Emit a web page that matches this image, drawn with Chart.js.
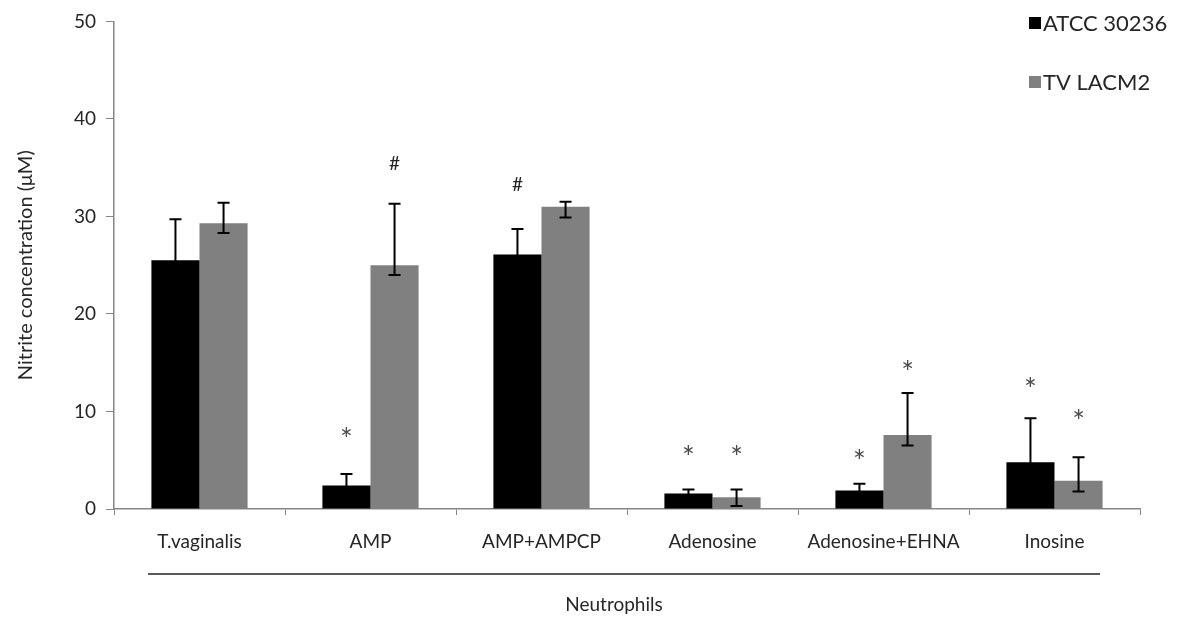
<!DOCTYPE html>
<html>
<head>
<meta charset="utf-8">
<script src="https://cdn.jsdelivr.net/npm/chart.js@4/dist/chart.umd.min.js"></script>
<style>
  html, body { margin: 0; padding: 0; background: #fff; }
  #wrap { width: 1186px; height: 623px; }
</style>
</head>
<body>
<div id="wrap"><canvas id="grafica" width="1186" height="623"></canvas></div>
<script>
// datos
const categorias = ['T.vaginalis', 'AMP', 'AMP+AMPCP', 'Adenosine', 'Adenosine+EHNA', 'Inosine'];
const atcc = [25.5, 2.4, 26.1, 1.6, 1.9, 4.8];
const atccAlto = [29.7, 3.6, 28.7, 2.0, 2.6, 9.3];
const atccBajo = [21.3, 1.2, 23.5, 1.2, 1.2, 0.3];
const lacm = [29.3, 25.0, 31.0, 1.2, 7.6, 2.9];
const lacmAlto = [31.4, 31.3, 31.5, 2.0, 11.9, 5.3];
const lacmBajo = [28.3, 24.0, 29.9, 0.3, 6.5, 1.8];
// marcas de significancia (texto y altura)
const marcaAtcc = ['', '*', '#', '*', '*', '*'];
const marcaAtccY = [null, 7.9, 33.3, 6.0, 5.6, 13.0];
const marcaLacm = ['', '#', '', '*', '*', '*'];
const marcaLacmY = [null, 35.5, null, 6.0, 14.8, 9.7];
const ticksY = [0, 10, 20, 30, 40, 50];

const FUENTE = 'Lato, "Open Sans", sans-serif';
const TEXTO = '#262626';

const extras = {
  id: 'extras',
  afterDatasetsDraw(chart) {
    const ctx = chart.ctx;
    const y = chart.scales.y;
    const altos = [atccAlto, lacmAlto];
    const bajos = [atccBajo, lacmBajo];
    const marcas = [marcaAtcc, marcaLacm];
    const marcasY = [marcaAtccY, marcaLacmY];
    ctx.save();
    [0, 1].forEach(d => {
      const meta = chart.getDatasetMeta(d);
      meta.data.forEach((bar, i) => {
        const x = bar.x;
        const yh = y.getPixelForValue(altos[d][i]);
        const yl = y.getPixelForValue(bajos[d][i]);
        ctx.strokeStyle = '#000';
        ctx.lineWidth = 2;
        ctx.beginPath();
        ctx.moveTo(x, yh); ctx.lineTo(x, yl);
        ctx.moveTo(x - 6, yh); ctx.lineTo(x + 6, yh);
        ctx.moveTo(x - 6, yl); ctx.lineTo(x + 6, yl);
        ctx.stroke();
        const m = marcas[d][i];
        if (m) {
          const ym = y.getPixelForValue(marcasY[d][i]);
          ctx.fillStyle = m === '*' ? '#4a4a4a' : '#222';
          ctx.font = (m === '*' ? '30px ' : '19px ') + FUENTE;
          ctx.textAlign = 'center';
          ctx.textBaseline = 'alphabetic';
          const med = ctx.measureText(m);
          const off = (med.actualBoundingBoxAscent - med.actualBoundingBoxDescent) / 2;
          ctx.fillText(m, x, ym + off);
        }
      });
    });
    ctx.restore();
  },
  afterDraw(chart) {
    const ctx = chart.ctx;
    ctx.save();
    // leyenda
    const items = [
      { txt: chart.data.datasets[0].label, col: chart.data.datasets[0].backgroundColor, y: 23 },
      { txt: chart.data.datasets[1].label, col: chart.data.datasets[1].backgroundColor, y: 82 }
    ];
    ctx.font = '22px ' + FUENTE;
    ctx.textBaseline = 'middle';
    ctx.textAlign = 'left';
    items.forEach(it => {
      ctx.fillStyle = it.col;
      ctx.fillRect(1029, it.y - 6, 12, 12);
      ctx.fillStyle = TEXTO;
      ctx.fillText(it.txt, 1043, it.y + 1);
    });
    // linea de grupo y etiqueta
    ctx.strokeStyle = '#222';
    ctx.lineWidth = 1.5;
    ctx.beginPath();
    ctx.moveTo(148, 574); ctx.lineTo(1100, 574);
    ctx.stroke();
    ctx.fillStyle = TEXTO;
    ctx.font = '19px ' + FUENTE;
    ctx.textAlign = 'center';
    ctx.fillText('Neutrophils', 614, 605);
    ctx.restore();
  }
};

new Chart(document.getElementById('grafica'), {
  type: 'bar',
  data: {
    labels: categorias,
    datasets: [
      { label: 'ATCC 30236', data: atcc, backgroundColor: '#000000' },
      { label: 'TV LACM2', data: lacm, backgroundColor: '#808080' }
    ]
  },
  options: {
    responsive: false,
    animation: false,
    layout: { padding: { top: 19, right: 46, left: 0, bottom: 0 } },
    datasets: { bar: { categoryPercentage: 0.5625, barPercentage: 1 } },
    plugins: { legend: { display: false }, tooltip: { enabled: false } },
    scales: {
      x: {
        grid: { display: true, drawOnChartArea: false, tickLength: 6, color: '#868686' },
        border: { color: '#868686', width: 1.5 },
        ticks: { color: TEXTO, font: { family: FUENTE, size: 19 }, padding: 15, maxRotation: 0 },
        afterFit: s => { s.height = 114; }
      },
      y: {
        min: 0, max: 50,
        afterBuildTicks: s => { s.ticks = ticksY.map(v => ({ value: v })); },
        grid: { display: true, drawOnChartArea: false, tickLength: 8, color: '#868686' },
        border: { color: '#868686', width: 1.5 },
        ticks: { color: TEXTO, font: { family: FUENTE, size: 19 }, padding: 10 },
        title: { display: true, text: 'Nitrite concentration (μM)', color: TEXTO,
                 font: { family: FUENTE, size: 20 }, padding: { top: 14, bottom: 0 } },
        afterFit: s => { s.width = 114; }
      }
    }
  },
  plugins: [extras]
});
</script>
</body>
</html>
